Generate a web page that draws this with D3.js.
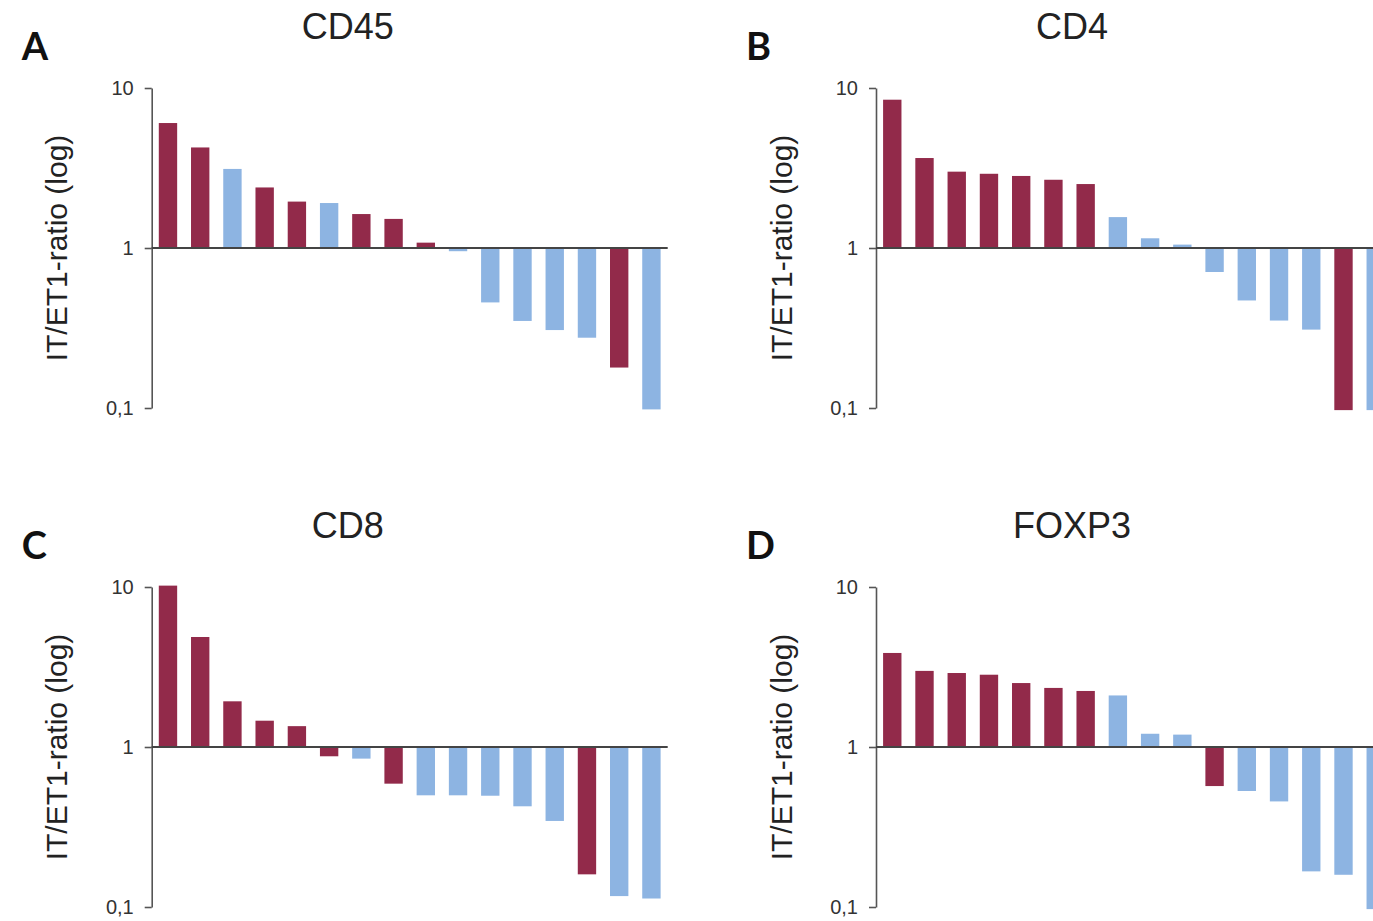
<!DOCTYPE html>
<html>
<head>
<meta charset="utf-8">
<script src="https://cdn.jsdelivr.net/npm/d3@7"></script>
<style>
  html, body { margin: 0; padding: 0; background: #fff; }
  svg { display: block; }
</style>
</head>
<body>
<script>
// Patient index along the x axis (16 patients per marker, sorted by ratio)
const patients = d3.range(1, 17);

// IT/ET1 ratios per marker
const cd45Values  = [6.04, 4.25, 3.12, 2.39, 1.95, 1.91, 1.63, 1.52, 1.08, 0.955, 0.457, 0.35, 0.307, 0.275, 0.179, 0.098];
const cd4Values   = [8.45, 3.65, 3.0, 2.91, 2.82, 2.67, 2.51, 1.56, 1.15, 1.05, 0.708, 0.47, 0.352, 0.309, 0.097, 0.097];
const cd8Values   = [10.2, 4.87, 1.93, 1.46, 1.35, 0.875, 0.846, 0.59, 0.499, 0.499, 0.496, 0.426, 0.345, 0.16, 0.117, 0.113];
const foxp3Values = [3.87, 2.99, 2.90, 2.83, 2.51, 2.34, 2.24, 2.10, 1.21, 1.195, 0.57, 0.531, 0.457, 0.167, 0.159, 0.097];

// Patient group of each bar (0 = red group, 1 = blue group)
const cd45Groups  = [0, 0, 1, 0, 0, 1, 0, 0, 0, 1, 1, 1, 1, 1, 0, 1];
const cd4Groups   = [0, 0, 0, 0, 0, 0, 0, 1, 1, 1, 1, 1, 1, 1, 0, 1];
const cd8Groups   = [0, 0, 0, 0, 0, 0, 1, 0, 1, 1, 1, 1, 1, 0, 1, 1];
const foxp3Groups = [0, 0, 0, 0, 0, 0, 0, 1, 1, 1, 0, 1, 1, 1, 1, 1];

// Panel headings
const panelLetters = ["A", "B", "C", "D"];
const panelTitles  = ["CD45", "CD4", "CD8", "FOXP3"];

// Log axis ticks and their labels
const tickValues = [0.1, 1, 10];
const tickLabels = ["0,1", "1", "10"];
const yLabel = "IT/ET1-ratio (log)";

const groupColors = ["#922a4a", "#8db4e2"];

const W = 1373, H = 921;
const svg = d3.select("body").append("svg")
  .attr("width", W).attr("height", H)
  .style("background", "#fff");

const panels = [
  { values: cd45Values,  groups: cd45Groups },
  { values: cd4Values,   groups: cd4Groups },
  { values: cd8Values,   groups: cd8Groups },
  { values: foxp3Values, groups: foxp3Groups }
];

// Panel origins: x of the y axis, y of the "10" tick
const origins = [
  { x: 151.7, y: 88 },
  { x: 876,   y: 88 },
  { x: 151.7, y: 587 },
  { x: 876,   y: 587 }
];

const plotW = 516, plotH = 320;
const color = d3.scaleOrdinal().domain([0, 1]).range(groupColors);
const fmt = d3.scaleOrdinal().domain(tickValues).range(tickLabels);

panels.forEach((p, i) => {
  const o = origins[i];
  const g = svg.append("g").attr("transform", `translate(${o.x},${o.y})`);

  const x = d3.scaleBand().domain(patients).range([0, plotW])
    .paddingInner(0.43).paddingOuter(0.22);
  const y = d3.scaleLog().domain([0.1, 10]).range([plotH, 0]);

  // bars grow from the ratio of 1 up or down
  g.selectAll("rect.bar")
    .data(patients)
    .join("rect")
    .attr("class", "bar")
    .attr("x", d => x(d))
    .attr("width", x.bandwidth())
    .attr("y", (d, k) => Math.min(y(p.values[k]), y(1)))
    .attr("height", (d, k) => Math.abs(y(p.values[k]) - y(1)))
    .attr("fill", (d, k) => color(p.groups[k]));

  // y axis
  const yAxis = d3.axisLeft(y)
    .tickValues(tickValues)
    .tickFormat(d => fmt(d))
    .tickSize(7)
    .tickSizeOuter(0)
    .tickPadding(11);
  const ax = g.append("g").call(yAxis);
  ax.select(".domain").attr("stroke", "#555").attr("stroke-width", 1.6);
  ax.selectAll(".tick line").attr("stroke", "#555").attr("stroke-width", 1.6);
  ax.selectAll(".tick text")
    .attr("fill", "#333")
    .style("font-family", "'Liberation Sans', Arial, sans-serif")
    .style("font-size", "20px");

  // reference line at ratio 1
  g.append("line")
    .attr("x1", 0).attr("x2", plotW)
    .attr("y1", y(1)).attr("y2", y(1))
    .attr("stroke", "#444").attr("stroke-width", 2);

  // y axis title
  g.append("text")
    .attr("transform", `translate(${-95},${y(1)}) rotate(-90)`)
    .attr("text-anchor", "middle")
    .attr("dy", "0.35em")
    .style("font-family", "'Liberation Sans', Arial, sans-serif")
    .style("font-size", "30px")
    .attr("fill", "#222")
    .text(yLabel);

  // panel title
  g.append("text")
    .attr("x", 196)
    .attr("y", -49)
    .attr("text-anchor", "middle")
    .style("font-family", "'Liberation Sans', Arial, sans-serif")
    .style("font-size", "36px")
    .attr("fill", "#222")
    .text(panelTitles[i]);

  // panel letter
  g.append("text")
    .attr("x", -130)
    .attr("y", -28)
    .style("font-family", "Lato, 'Open Sans', sans-serif")
    .style("font-weight", "bold")
    .style("font-size", "38px")
    .attr("fill", "#111")
    .text(panelLetters[i]);
});
</script>
</body>
</html>
